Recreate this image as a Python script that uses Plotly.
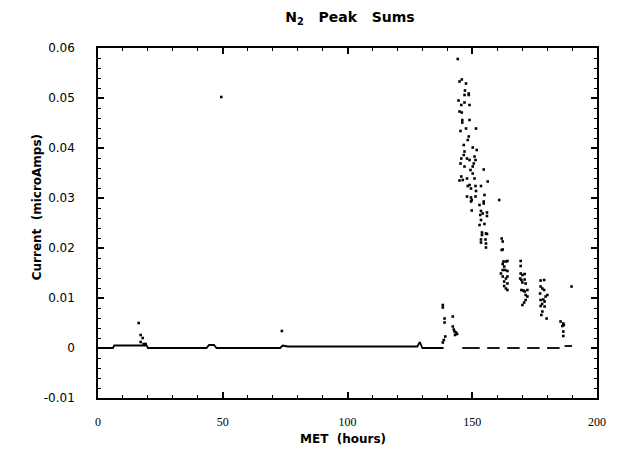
import plotly.graph_objects as go

# ---- data ----
# scattered peak-sum samples
met_hours = [
    16.3, 17.1, 17.9, 17.1, 18.3, 19.1,
    49.4, 73.7,
    138.2, 138.2, 138.9, 138.9, 142.2, 142.2, 142.6, 142.9, 143.5, 143.9, 143.1, 139.2, 138.6, 138.2,
    144.2,
    145.8, 144.9, 147.5, 147.1, 148.6, 148.6, 146.9, 144.5, 146.9, 148.9, 145.6, 144.9, 145.8, 146.0,
    146.0, 148.9, 145.3, 147.5, 151.5, 148.6, 148.2, 146.6, 150.2, 151.8, 146.9, 146.6, 150.9, 151.3,
    150.6, 150.2, 145.6, 147.9, 148.9, 145.3, 146.9, 154.6, 149.3, 150.2, 145.6, 144.9, 146.2, 147.9,
    150.9, 156.2, 148.9, 149.5, 148.2, 151.3, 153.5, 151.5, 147.9, 149.5, 154.9, 151.3, 149.5, 154.6,
    152.9, 160.8,
    149.8, 154.6, 149.8, 153.5, 154.2, 153.2, 155.9, 155.9, 153.5, 152.9, 154.9, 153.9, 153.9, 155.5,
    155.9, 153.5, 153.5, 155.3, 155.5, 155.5,
    161.8, 162.2, 162.2, 161.8, 162.5, 163.5, 162.2, 162.8, 162.2, 163.2, 161.5, 164.1, 162.2, 163.5,
    162.8, 164.1, 162.8, 163.5, 164.1, 164.1, 164.1,
    169.4, 169.4, 169.4, 170.1, 169.2, 169.7, 170.1, 171.0, 171.0, 171.4, 169.7, 170.5, 171.0, 172.1,
    171.4, 172.1, 171.4, 170.8, 170.1,
    177.4, 178.8, 177.4, 178.1, 178.8, 177.2, 180.1, 179.4, 178.5, 177.4, 179.0, 178.0, 177.4, 179.0,
    178.1, 177.7, 179.8,
    185.4, 186.5, 186.1, 186.7, 186.5, 186.5,
    189.8,
]
current_uA = [
    0.0050, 0.0026, 0.0020, 0.0012, 0.0008, 0.0008,
    0.0502, 0.0034,
    0.0086, 0.0081, 0.0059, 0.0051, 0.0063, 0.0043, 0.0037, 0.0033, 0.0031, 0.0028, 0.0026, 0.0023, 0.0016, 0.0011,
    0.0578,
    0.0537, 0.0533, 0.0529, 0.0515, 0.0509, 0.0506, 0.0506, 0.0495, 0.0491, 0.0486, 0.0486, 0.0473, 0.0471, 0.0456,
    0.0451, 0.0456, 0.0434, 0.0439, 0.0439, 0.0423, 0.0416, 0.0406, 0.0401, 0.0396, 0.0393, 0.0386, 0.0383, 0.0376,
    0.0369, 0.0363, 0.0379, 0.0379, 0.0376, 0.0369, 0.0363, 0.0357, 0.0356, 0.0349, 0.0343, 0.0335, 0.0336, 0.0339,
    0.0339, 0.0333, 0.0326, 0.0319, 0.0324, 0.0324, 0.0324, 0.0314, 0.0303, 0.0301, 0.0306, 0.0303, 0.0293, 0.0293,
    0.0286, 0.0296,
    0.0296, 0.0289, 0.0275, 0.0274, 0.0269, 0.0266, 0.0271, 0.0264, 0.0256, 0.0246, 0.0248, 0.0231, 0.0226, 0.0229,
    0.0228, 0.0217, 0.0211, 0.0217, 0.0209, 0.0201,
    0.0219, 0.0213, 0.0197, 0.0196, 0.0173, 0.0173, 0.0168, 0.0163, 0.0156, 0.0156, 0.0149, 0.0154, 0.0143, 0.0139,
    0.0133, 0.0129, 0.0124, 0.0119, 0.0116, 0.0174, 0.0143,
    0.0174, 0.0164, 0.0149, 0.0146, 0.0139, 0.0136, 0.0131, 0.0148, 0.0137, 0.0129, 0.0116, 0.0115, 0.0113, 0.0116,
    0.0106, 0.0103, 0.0096, 0.0091, 0.0086,
    0.0135, 0.0136, 0.0123, 0.0119, 0.0116, 0.0109, 0.0106, 0.0103, 0.0097, 0.0096, 0.0093, 0.0088, 0.0084, 0.0083,
    0.0073, 0.0066, 0.0059,
    0.0053, 0.0049, 0.0044, 0.0046, 0.0033, 0.0024,
    0.0123,
]

# near-zero baseline (None = gap in the record)
base_met = [0.5, 6, 6.5, 19.5, 20, 43.5, 44.5, 46.5, 47.5, 73, 74, 76, 128, 129, 130, 138.5,
            None, 146, 153, None, 156, 161, None, 164, 169, None, 172, 177, None, 180, 185, None, 187, 190]
base_val = [0, 0, 0.0005, 0.0005, 0, 0, 0.0006, 0.0006, 0, 0, 0.0005, 0.0003, 0.0003, 0.0012, 0, 0,
            None, 0, 0, None, 0, 0, None, 0, 0, None, 0, 0, None, 0, 0, None, 0.0004, 0.0004]

x_ticks = [0, 50, 100, 150, 200]
y_ticks = [-0.01, 0, 0.01, 0.02, 0.03, 0.04, 0.05, 0.06]
y_tick_text = ["-0.01", "0", "0.01", "0.02", "0.03", "0.04", "0.05", "0.06"]

fig = go.Figure()
fig.add_trace(go.Scatter(x=base_met, y=base_val, mode="lines",
                         line=dict(color="black", width=1.8), connectgaps=False,
                         hoverinfo="skip"))
fig.add_trace(go.Scatter(x=met_hours, y=current_uA, mode="markers",
                         marker=dict(color="black", size=2.6, symbol="square", line=dict(width=0))))

bold = "DejaVu Sans"
fig.update_layout(
    width=618, height=457,
    margin=dict(l=98, r=18, t=48, b=59),
    paper_bgcolor="white", plot_bgcolor="white",
    showlegend=False,
    title=dict(text="<b>N<sub>2</sub>   Peak   Sums</b>", x=0.505, xref="paper", xanchor="center",
               y=0.962, yref="container", yanchor="middle",
               font=dict(family=bold, size=14, color="black")),
    annotations=[
        dict(text="<b>Current  (microAmps)</b>", xref="paper", yref="paper",
             x=-0.1215, y=0.546, xanchor="center", yanchor="middle", textangle=-90, showarrow=False,
             font=dict(family=bold, size=12, color="black")),
        dict(text="<b>MET  (hours)</b>", xref="paper", yref="paper",
             x=0.49, y=-0.116, xanchor="center", yanchor="middle", showarrow=False,
             font=dict(family=bold, size=12, color="black")),
    ],
)
fig.update_xaxes(
    range=[0, 200], tickvals=x_ticks, ticktext=[str(v) for v in x_ticks],
    showline=True, linecolor="black", linewidth=1.5, mirror="ticks",
    ticks="inside", ticklen=6, tickwidth=1.5, tickcolor="black",
    minor=dict(tickvals=list(range(0, 201, 10)), ticks="inside", ticklen=3, tickwidth=1.2, tickcolor="black"),
    showgrid=False, zeroline=False,
    tickfont=dict(family="Liberation Serif", size=12, color="black"),
    ticklabelstandoff=12,
)
fig.update_yaxes(
    range=[-0.01, 0.06], tickvals=y_ticks, ticktext=y_tick_text,
    showline=True, linecolor="black", linewidth=1.5, mirror="ticks",
    ticks="inside", ticklen=6, tickwidth=1.5, tickcolor="black",
    minor=dict(tickvals=[round(-0.01 + 0.002 * i, 3) for i in range(36)], ticks="inside", ticklen=3,
               tickwidth=1.2, tickcolor="black"),
    showgrid=False, zeroline=False,
    tickfont=dict(family="DejaVu Sans", size=12, color="black"),
    ticklabelstandoff=19,
)

fig.write_html("out.html")
